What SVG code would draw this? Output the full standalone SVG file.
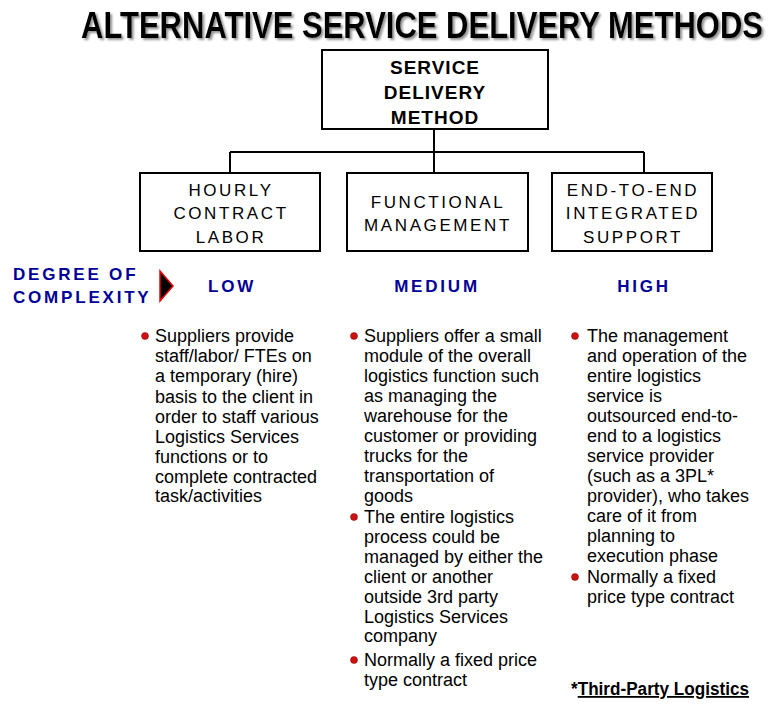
<svg xmlns="http://www.w3.org/2000/svg" width="773" height="704" viewBox="0 0 773 704">
<defs>
<filter id="shadow" x="-5%" y="-30%" width="110%" height="160%">
<feDropShadow dx="2" dy="1.5" stdDeviation="0.8" flood-color="#777" flood-opacity="0.8"/>
</filter>
</defs>
<style>
.box{fill:#fff;stroke:#000;stroke-width:2}
.conn{fill:none;stroke:#000;stroke-width:2}
.title{font-family:"Liberation Sans",Arial,sans-serif;font-weight:bold;font-size:28px}
.top{font-family:"Liberation Sans",Arial,sans-serif;font-weight:bold;font-size:19px;letter-spacing:1px;text-anchor:middle}
.lbl{font-family:"Liberation Sans",Arial,sans-serif;font-size:17px;letter-spacing:2.6px;text-anchor:middle}
.blue{font-family:"Liberation Sans",Arial,sans-serif;font-weight:bold;font-size:17px;fill:#000099;letter-spacing:2.8px}
.body{font-family:"Liberation Sans",Arial,sans-serif;font-size:18px;fill:#000}
.bullet{fill:#cc1111;stroke:#880000;stroke-width:0.5}
</style>
<rect width="773" height="704" fill="#fff"/>
<g id="title" transform="translate(81,38) scale(1,1.3)">
<text class="title" x="0" y="0" fill="#000" filter="url(#shadow)" textLength="682" lengthAdjust="spacingAndGlyphs">ALTERNATIVE SERVICE DELIVERY METHODS</text>
</g>
<g id="connectors">
<path class="conn" d="M434 129 V173 M230 152 H644 M230 152 V173 M644 152 V173"/>
</g>
<g id="node-root">
<rect class="box" x="322" y="50" width="226" height="79"/>
<text class="top" x="435" y="74">SERVICE</text>
<text class="top" x="435" y="99">DELIVERY</text>
<text class="top" x="435" y="124">METHOD</text>
</g>
<g id="node-hourly">
<rect class="box" x="140" y="173" width="180" height="78"/>
<text class="lbl" x="231" y="196">HOURLY</text>
<text class="lbl" x="231" y="219">CONTRACT</text>
<text class="lbl" x="231" y="243">LABOR</text>
</g>
<g id="node-functional">
<rect class="box" x="347" y="173" width="181" height="78"/>
<text class="lbl" x="438" y="208">FUNCTIONAL</text>
<text class="lbl" x="438" y="231">MANAGEMENT</text>
</g>
<g id="node-e2e">
<rect class="box" x="552" y="173" width="160" height="78"/>
<text class="lbl" x="633" y="196">END-TO-END</text>
<text class="lbl" x="633" y="219">INTEGRATED</text>
<text class="lbl" x="633" y="243">SUPPORT</text>
</g>
<g id="complexity">
<text class="blue" x="13" y="280">DEGREE OF</text>
<text class="blue" x="13" y="303">COMPLEXITY</text>
<polygon points="160,271 173,286 160,301" fill="#000" stroke="#e00" stroke-width="1.5"/>
<text class="blue" x="232" y="292" text-anchor="middle">LOW</text>
<text class="blue" x="437" y="292" text-anchor="middle">MEDIUM</text>
<text class="blue" x="644" y="292" text-anchor="middle">HIGH</text>
</g>
<g id="col-low">
<circle class="bullet" cx="145" cy="336" r="3.5"/>
<text class="body" x="155"><tspan x="155" y="342">Suppliers provide</tspan><tspan x="155" y="362">staff/labor/ FTEs on</tspan><tspan x="155" y="382">a temporary (hire)</tspan><tspan x="155" y="403">basis to the client in</tspan><tspan x="155" y="423">order to staff various</tspan><tspan x="155" y="443">Logistics Services</tspan><tspan x="155" y="463">functions or to</tspan><tspan x="155" y="483">complete contracted</tspan><tspan x="155" y="502">task/activities</tspan></text>
</g>
<g id="col-medium">
<circle class="bullet" cx="354" cy="336" r="3.5"/>
<text class="body" x="364"><tspan x="364" y="342">Suppliers offer a small</tspan><tspan x="364" y="362">module of the overall</tspan><tspan x="364" y="382">logistics function such</tspan><tspan x="364" y="402">as managing the</tspan><tspan x="364" y="422">warehouse for the</tspan><tspan x="364" y="442">customer or providing</tspan><tspan x="364" y="462">trucks for the</tspan><tspan x="364" y="482">transportation of</tspan><tspan x="364" y="502">goods</tspan></text>
<circle class="bullet" cx="354" cy="517" r="3.5"/>
<text class="body" x="364"><tspan x="364" y="523">The entire logistics</tspan><tspan x="364" y="543">process could be</tspan><tspan x="364" y="563">managed by either the</tspan><tspan x="364" y="583">client or another</tspan><tspan x="364" y="603">outside 3rd party</tspan><tspan x="364" y="623">Logistics Services</tspan><tspan x="364" y="642">company</tspan></text>
<circle class="bullet" cx="354" cy="660" r="3.5"/>
<text class="body" x="364"><tspan x="364" y="666">Normally a fixed price</tspan><tspan x="364" y="686">type contract</tspan></text>
</g>
<g id="col-high">
<circle class="bullet" cx="575" cy="336" r="3.5"/>
<text class="body" x="587"><tspan x="587" y="342">The management</tspan><tspan x="587" y="362">and operation of the</tspan><tspan x="587" y="382">entire logistics</tspan><tspan x="587" y="402">service is</tspan><tspan x="587" y="422">outsourced end-to-</tspan><tspan x="587" y="442">end to a logistics</tspan><tspan x="587" y="462">service provider</tspan><tspan x="587" y="482">(such as a 3PL*</tspan><tspan x="587" y="502">provider), who takes</tspan><tspan x="587" y="522">care of it from</tspan><tspan x="587" y="542">planning to</tspan><tspan x="587" y="562">execution phase</tspan></text>
<circle class="bullet" cx="575" cy="577" r="3.5"/>
<text class="body" x="587"><tspan x="587" y="583">Normally a fixed</tspan><tspan x="587" y="603">price type contract</tspan></text>
</g>
<g id="footnote">
<text class="body" x="571" y="695" font-size="17" font-weight="bold" textLength="178" lengthAdjust="spacingAndGlyphs">*<tspan text-decoration="underline">Third-Party Logistics</tspan></text>
</g>
</svg>
